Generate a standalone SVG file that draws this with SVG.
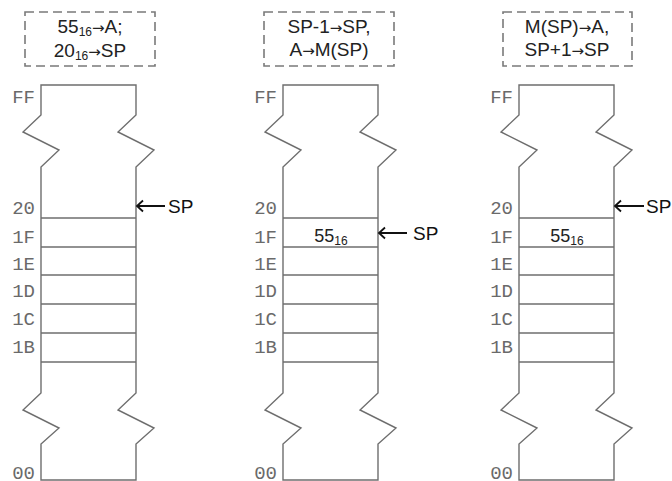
<svg xmlns="http://www.w3.org/2000/svg" xmlns:xlink="http://www.w3.org/1999/xlink" width="672" height="481" viewBox="0 0 672 481">
<style>
.mem{fill:none;stroke:#6e6e6e;stroke-width:1.4;stroke-linejoin:miter}
.row{stroke:#6e6e6e;stroke-width:1.4}
.addr{font-family:"Liberation Mono","Courier New",monospace;font-size:19px;fill:#6a6a6a;text-anchor:end}
.box{fill:none;stroke:#7a7a7a;stroke-width:1.6;stroke-dasharray:9 5}
.op{font-family:"Liberation Sans",Arial,sans-serif;font-size:19px;fill:#222;text-anchor:middle}
.ar{font-family:"DejaVu Sans",sans-serif;font-size:15px}
.val{font-family:"Liberation Sans",Arial,sans-serif;font-size:18px;fill:#222;text-anchor:middle}
.sub{font-size:12px}
.arr{stroke:#111;stroke-width:1.8;fill:none}
.sp{font-family:"Liberation Sans",Arial,sans-serif;font-size:19px;fill:#111}
</style>
<defs>
<g id="memory">
<path class="mem" d="M41,480 L41,444 L59,428 L23,410 L41,393 L41,167 L59,150 L23,132 L41,115 L41,85 L136,85 L136,115 L118,132 L154,150 L136,167 L136,393 L118,410 L154,428 L136,444 L136,480 Z"/>
<line class="row" x1="41" y1="218" x2="136" y2="218"/>
<line class="row" x1="41" y1="247" x2="136" y2="247"/>
<line class="row" x1="41" y1="275" x2="136" y2="275"/>
<line class="row" x1="41" y1="304" x2="136" y2="304"/>
<line class="row" x1="41" y1="333" x2="136" y2="333"/>
<line class="row" x1="41" y1="362" x2="136" y2="362"/>
<text class="addr" x="35" y="103">FF</text>
<text class="addr" x="35" y="214">20</text>
<text class="addr" x="35" y="243">1F</text>
<text class="addr" x="35" y="270">1E</text>
<text class="addr" x="35" y="297">1D</text>
<text class="addr" x="35" y="325">1C</text>
<text class="addr" x="35" y="353">1B</text>
<text class="addr" x="35" y="479">00</text>
</g>
</defs>

<g id="step1">
<rect class="box" x="25" y="12" width="130" height="54"/>
<text class="op" x="90" y="33">55<tspan class="sub" dy="3">16</tspan><tspan class="ar" dy="-3">→</tspan>A;</text>
<text class="op" x="90" y="57">20<tspan class="sub" dy="3">16</tspan><tspan class="ar" dy="-3">→</tspan>SP</text>
<use xlink:href="#memory"/>
</g>

<g id="step2">
<rect class="box" x="264" y="12" width="130" height="54"/>
<text class="op" x="329" y="33">SP-1<tspan class="ar">→</tspan>SP,</text>
<text class="op" x="329" y="56">A<tspan class="ar">→</tspan>M(SP)</text>
<use xlink:href="#memory" transform="translate(242,0)"/>
<text class="val" x="331" y="242">55<tspan class="sub" dy="3">16</tspan></text>
</g>

<g id="step3">
<rect class="box" x="503" y="12" width="129" height="54"/>
<text class="op" x="567" y="33">M(SP)<tspan class="ar">→</tspan>A,</text>
<text class="op" x="567" y="56">SP+1<tspan class="ar">→</tspan>SP</text>
<use xlink:href="#memory" transform="translate(478,0)"/>
<text class="val" x="567" y="242">55<tspan class="sub" dy="3">16</tspan></text>
</g>

<g id="connectors">
<path class="arr" d="M165,206 L137,206 M143,200.5 L137,206 L143,211.5"/>
<path class="arr" d="M407,233 L379,233 M385,227.5 L379,233 L385,238.5"/>
<path class="arr" d="M644,206 L615,206 M621,200.5 L615,206 L621,211.5"/>
</g>
<text class="sp" x="168" y="213">SP</text>
<text class="sp" x="413" y="240">SP</text>
<text class="sp" x="646" y="213">SP</text>
</svg>
